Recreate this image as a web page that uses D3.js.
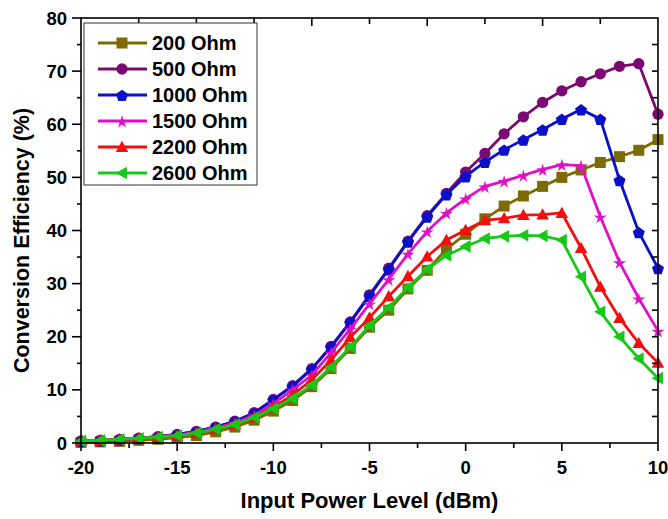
<!DOCTYPE html>
<html><head><meta charset="utf-8">
<script src="https://cdn.jsdelivr.net/npm/d3@7"></script>
<style>
body{margin:0;background:#fff;}
svg{display:block;font-family:"Liberation Sans",Arial,sans-serif;font-weight:bold;}
</style></head>
<body><svg id="c" width="668" height="519"></svg>
<script>
const inputPower = d3.range(-20, 11); // -20..10 dBm
const seriesNames = ["200 Ohm","500 Ohm","1000 Ohm","1500 Ohm","2200 Ohm","2600 Ohm"];
const eff200  = [0.1,0.2,0.3,0.5,0.7,1.0,1.4,2.1,3.0,4.3,6.0,8.0,10.6,14.0,17.8,21.8,25.0,29.0,32.5,36.5,39.3,42.2,44.6,46.5,48.3,50.0,51.4,52.8,53.9,55.1,57.1];
const eff500  = [0.4,0.5,0.7,0.9,1.2,1.6,2.2,3.0,4.1,5.7,8.2,10.8,14.0,18.2,22.8,27.9,32.9,38.0,42.8,47.0,51.0,54.5,58.2,61.4,64.1,66.3,68.0,69.5,70.9,71.4,61.9];
const eff1000 = [0.4,0.5,0.7,0.9,1.2,1.6,2.2,3.0,4.1,5.6,8.1,10.7,13.9,18.1,22.7,27.7,32.7,37.9,42.6,46.8,50.2,52.9,55.2,57.1,59.0,61.0,62.8,61.0,49.5,39.7,32.9];
const eff1500 = [0.4,0.5,0.7,0.9,1.2,1.5,2.0,2.8,3.8,5.2,7.4,10.0,12.8,17.0,21.5,26.2,30.8,35.6,39.8,43.3,46.0,48.3,49.3,50.4,51.5,52.4,52.2,42.6,34.0,27.2,21.1];
const eff2200 = [0.4,0.5,0.7,0.9,1.1,1.4,1.9,2.6,3.5,4.8,6.8,9.0,11.9,15.6,19.9,23.6,27.6,31.4,35.1,38.2,40.1,41.9,42.3,42.9,43.0,43.3,36.7,29.4,23.5,18.8,15.1];
const eff2600 = [0.4,0.5,0.7,0.9,1.1,1.4,1.9,2.6,3.5,4.8,6.5,8.4,10.9,14.3,18.1,22.1,25.5,29.3,32.7,35.3,37.0,38.5,38.9,39.1,39.0,38.2,31.3,24.7,20.0,15.9,12.2];
const allSeries = [eff200, eff500, eff1000, eff1500, eff2200, eff2600];
const colors = ["#7b6b00","#7a0a72","#0a10c8","#e010c8","#f01010","#18c818"];
const markerTypes = ["square","circle","pentagon","star","triUp","triLeft"];
const xTicks = [-20,-15,-10,-5,0,5,10];
const yTicks = [0,10,20,30,40,50,60,70,80];

const svg = d3.select("#c");
const L=81, R=658, T=18, B=443;
const x = d3.scaleLinear().domain([-20,10]).range([L,R]);
const y = d3.scaleLinear().domain([0,80]).range([B,T]);

function markerPath(type, s){
  const r=s/2;
  switch(type){
    case "square": return `M${-r},${-r}H${r}V${r}H${-r}Z`;
    case "circle": return d3.symbol(d3.symbolCircle, Math.PI*r*r*1.05)();
    case "pentagon": {
      let p=[]; for(let i=0;i<5;i++){const a=-Math.PI/2+i*2*Math.PI/5; p.push([r*1.15*Math.cos(a), r*1.15*Math.sin(a)+1]);}
      return "M"+p.map(q=>q.join(",")).join("L")+"Z";}
    case "star": {
      let p=[]; for(let i=0;i<10;i++){const a=-Math.PI/2+i*Math.PI/5; const rr=i%2?r*0.45:r*1.25; p.push([rr*Math.cos(a), rr*Math.sin(a)+1]);}
      return "M"+p.map(q=>q.join(",")).join("L")+"Z";}
    case "triUp": return `M0,${-r*1.15}L${r*1.15},${r*0.9}L${-r*1.15},${r*0.9}Z`;
    case "triLeft": return `M${-r*1.15},0L${r*0.9},${-r*1.15}L${r*0.9},${r*1.15}Z`;
  }
}

// Data lines & markers
const line = d3.line().x((d,i)=>x(inputPower[i])).y(d=>y(d));
const plot = svg.append("g");
allSeries.forEach((vals,k)=>{
  const g = plot.append("g");
  g.append("path").attr("d", line(vals)).attr("fill","none").attr("stroke",colors[k]).attr("stroke-width",2.8).attr("stroke-linejoin","round");
  g.selectAll("path.m").data(vals).join("path").attr("class","m")
    .attr("d", markerPath(markerTypes[k], 11))
    .attr("transform",(d,i)=>`translate(${x(inputPower[i])},${y(d)})`)
    .attr("fill",colors[k]);
});

// Axes
const ax = svg.append("g").attr("stroke","#000").attr("stroke-width",1.6);
ax.append("rect").attr("x",L).attr("y",T).attr("width",R-L).attr("height",B-T).attr("fill","none");
d3.range(-20,10.01,2.5).forEach(v=>{
  const major = v%5===0;
  ax.append("line").attr("x1",x(v)).attr("x2",x(v)).attr("y1",B).attr("y2",B+(major?8:5));
});
d3.range(-17,10,3).forEach((v,i)=>{
  ax.append("line").attr("x1",x(v)).attr("x2",x(v)).attr("y1",T).attr("y2",T+(i%2?8:6));
});
d3.range(0,80.01,5).forEach(v=>{
  const major = v%10===0;
  ax.append("line").attr("x1",L).attr("x2",L-(major?9:4)).attr("y1",y(v)).attr("y2",y(v));
});
d3.range(5,80,5).forEach(v=>{
  ax.append("line").attr("x1",R).attr("x2",R-6).attr("y1",y(v)).attr("y2",y(v));
});

// tick labels
svg.append("g").selectAll("text").data(xTicks).join("text")
  .attr("x",d=>x(d)).attr("y",474).attr("text-anchor","middle").attr("font-size",18.5).text(d=>d);
svg.append("g").selectAll("text").data(yTicks).join("text")
  .attr("x",67).attr("y",d=>y(d)+6.5).attr("text-anchor","end").attr("font-size",18.5).text(d=>d);

// axis titles
svg.append("text").attr("x",(L+R)/2).attr("y",508).attr("text-anchor","middle").attr("font-size",22).text("Input Power Level (dBm)");
svg.append("text").attr("transform",`translate(29,${(T+B)/2 + 10}) rotate(-90)`).attr("text-anchor","middle").attr("font-size",21.5).text("Conversion Efficiency (%)");

// legend
const lg = svg.append("g");
lg.append("rect").attr("x",84).attr("y",23).attr("width",173).attr("height",162).attr("fill","#fff").attr("stroke","#333").attr("stroke-width",1);
seriesNames.forEach((n,k)=>{
  const yy = 43 + k*26;
  lg.append("line").attr("x1",98).attr("x2",147).attr("y1",yy).attr("y2",yy).attr("stroke",colors[k]).attr("stroke-width",2.8);
  lg.append("path").attr("d",markerPath(markerTypes[k],11)).attr("transform",`translate(122,${yy})`).attr("fill",colors[k]);
  lg.append("text").attr("x",152).attr("y",yy+7).attr("font-size",20).text(n);
});
</script></body></html>
